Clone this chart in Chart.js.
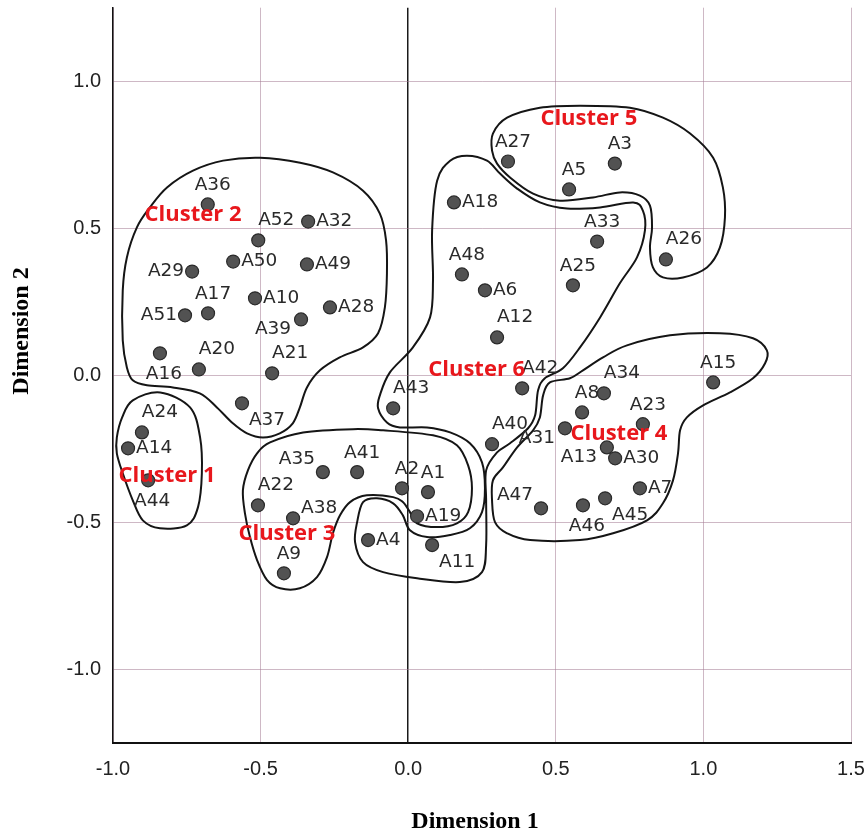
<!DOCTYPE html>
<html>
<head>
<meta charset="utf-8">
<title>Dimension 1 / Dimension 2 clusters</title>
<script src="https://cdn.jsdelivr.net/npm/chart.js@4.4.1/dist/chart.umd.min.js"></script>
<style>
  html, body { margin: 0; padding: 0; background: #fff; }
  #wrap { width: 868px; height: 839px; }
</style>
</head>
<body>
<div id="wrap"><canvas id="myChart" width="868" height="839"></canvas></div>
<script>
// Point names and coordinates
const pointNames = ['A1','A2','A3','A4','A5','A6','A7','A8','A9','A10','A11','A12','A13','A14','A15','A16','A17','A18','A19','A20','A21','A22','A23','A24','A25','A26','A27','A28','A29','A30','A31','A32','A33','A34','A35','A36','A37','A38','A39','A40','A41','A42','A43','A44','A45','A46','A47','A48','A49','A50','A51','A52']
const dim1 = [0.067, -0.021, 0.700, -0.136, 0.545, 0.260, 0.785, 0.589, -0.421, -0.519, 0.081, 0.301, 0.673, -0.949, 1.033, -0.841, -0.678, 0.155, 0.030, -0.709, -0.461, -0.509, 0.795, -0.902, 0.558, 0.873, 0.338, -0.265, -0.732, 0.701, 0.531, -0.339, 0.640, 0.663, -0.289, -0.679, -0.563, -0.390, -0.363, 0.284, -0.173, 0.386, -0.051, -0.881, 0.667, 0.592, 0.450, 0.182, -0.343, -0.593, -0.756, -0.508]
const dim2 = [-0.397, -0.384, 0.720, -0.560, 0.632, 0.289, -0.384, -0.126, -0.673, 0.262, -0.577, 0.129, -0.245, -0.248, -0.024, 0.075, 0.211, 0.588, -0.479, 0.020, 0.007, -0.442, -0.166, -0.194, 0.306, 0.394, 0.727, 0.231, 0.353, -0.282, -0.180, 0.523, 0.455, -0.061, -0.329, 0.581, -0.095, -0.486, 0.190, -0.234, -0.329, -0.044, -0.112, -0.357, -0.418, -0.442, -0.452, 0.343, 0.377, 0.387, 0.204, 0.459]
// where each name sits next to its dot
const labelSide = ['t','t','t','r','t','r','r','t','t','r','br','tr','bl','r','t','b','t','r','r','tr','tr','tr','t','tr','t','tr','t','r','l','r','bl','r','t','tr','tl','t','br','ru','bl','tr','t','tr','tr','b','br','b','tl','t','r','r','l','tr']

const xTicks = [-1.0, -0.5, 0.0, 0.5, 1.0, 1.5]
const yTicks = [-1.0, -0.5, 0.0, 0.5, 1.0]

const clusterNames = ['Cluster 1', 'Cluster 2', 'Cluster 3', 'Cluster 4', 'Cluster 5', 'Cluster 6']
const clusterLabelX = [-0.817, -0.729, -0.411, 0.714, 0.612, 0.232]
const clusterLabelY = [-0.343, 0.547, -0.537, -0.197, 0.873, 0.020]

// hand drawn cluster boundaries, in data units
const cluster1Outline = [[-0.840,-0.058],[-0.739,-0.109],[-0.705,-0.211],[-0.699,-0.333],[-0.712,-0.448],[-0.750,-0.510],[-0.841,-0.520],[-0.899,-0.493],[-0.933,-0.425],[-0.967,-0.333],[-0.987,-0.265],[-0.987,-0.211],[-0.969,-0.143],[-0.933,-0.085]]
const cluster2Outline = [[-0.502,0.740],[-0.366,0.723],[-0.255,0.690],[-0.153,0.628],[-0.096,0.550],[-0.075,0.459],[-0.072,0.347],[-0.079,0.231],[-0.102,0.143],[-0.153,0.095],[-0.232,0.061],[-0.299,0.017],[-0.343,-0.041],[-0.367,-0.109],[-0.391,-0.163],[-0.435,-0.197],[-0.492,-0.211],[-0.546,-0.197],[-0.594,-0.163],[-0.648,-0.109],[-0.706,-0.061],[-0.797,-0.041],[-0.885,-0.034],[-0.933,-0.017],[-0.953,0.027],[-0.967,0.119],[-0.967,0.289],[-0.953,0.401],[-0.919,0.503],[-0.875,0.571],[-0.817,0.639],[-0.729,0.696],[-0.627,0.730]]
const cluster3Outline = [[-0.468,-0.228],[-0.356,-0.194],[-0.187,-0.183],[-0.085,-0.187],[0.084,-0.204],[0.165,-0.238],[0.203,-0.306],[0.216,-0.384],[0.203,-0.465],[0.165,-0.503],[0.098,-0.516],[0.030,-0.503],[0.006,-0.465],[-0.018,-0.431],[-0.051,-0.414],[-0.140,-0.408],[-0.197,-0.431],[-0.231,-0.476],[-0.255,-0.537],[-0.275,-0.618],[-0.309,-0.686],[-0.367,-0.724],[-0.434,-0.724],[-0.478,-0.696],[-0.512,-0.628],[-0.536,-0.550],[-0.553,-0.469],[-0.560,-0.391],[-0.543,-0.323],[-0.512,-0.265]]
const cluster4Outline = [[0.480,-0.024],[0.548,-0.010],[0.592,0.017],[0.660,0.061],[0.741,0.102],[0.887,0.136],[1.056,0.143],[1.168,0.126],[1.215,0.085],[1.209,0.041],[1.168,-0.010],[1.090,-0.058],[0.999,-0.102],[0.944,-0.143],[0.921,-0.187],[0.914,-0.265],[0.897,-0.357],[0.863,-0.435],[0.809,-0.493],[0.694,-0.537],[0.582,-0.560],[0.413,-0.560],[0.335,-0.537],[0.294,-0.499],[0.284,-0.425],[0.287,-0.357],[0.321,-0.313],[0.369,-0.245],[0.423,-0.187],[0.446,-0.143],[0.457,-0.068]]
const cluster5Outline = [[0.287,0.822],[0.335,0.876],[0.446,0.910],[0.582,0.917],[0.751,0.910],[0.863,0.876],[0.955,0.822],[1.033,0.740],[1.066,0.639],[1.073,0.537],[1.056,0.435],[1.012,0.367],[0.931,0.333],[0.863,0.333],[0.829,0.367],[0.819,0.435],[0.826,0.503],[0.819,0.577],[0.785,0.611],[0.717,0.622],[0.626,0.605],[0.514,0.594],[0.423,0.618],[0.345,0.673],[0.301,0.720],[0.284,0.764]]
const cluster6Outline = [[0.142,0.730],[0.199,0.747],[0.267,0.730],[0.311,0.686],[0.369,0.635],[0.446,0.588],[0.538,0.567],[0.650,0.571],[0.762,0.588],[0.795,0.560],[0.802,0.493],[0.775,0.401],[0.717,0.313],[0.650,0.197],[0.582,0.095],[0.524,0.024],[0.463,-0.010],[0.440,-0.051],[0.430,-0.136],[0.406,-0.180],[0.345,-0.231],[0.301,-0.262],[0.264,-0.323],[0.264,-0.425],[0.264,-0.577],[0.250,-0.669],[0.175,-0.703],[0.030,-0.690],[-0.085,-0.669],[-0.153,-0.635],[-0.180,-0.567],[-0.173,-0.499],[-0.153,-0.431],[-0.106,-0.418],[-0.051,-0.435],[-0.018,-0.476],[0.006,-0.527],[0.064,-0.550],[0.142,-0.543],[0.209,-0.520],[0.250,-0.465],[0.260,-0.384],[0.250,-0.296],[0.209,-0.231],[0.142,-0.194],[0.064,-0.177],[-0.028,-0.177],[-0.072,-0.160],[-0.102,-0.112],[-0.096,-0.068],[-0.062,0.010],[0.016,0.095],[0.074,0.197],[0.084,0.323],[0.081,0.493],[0.098,0.662]]

const clusterOutlines = [cluster1Outline, cluster2Outline, cluster3Outline, cluster4Outline, cluster5Outline, cluster6Outline]

const sansFont = "'Liberation Sans', Arial, sans-serif"
const serifFont = "'Liberation Serif', 'Times New Roman', serif"
const gridColor = 'rgba(165, 125, 150, 0.55)'

// label centre offset from the dot, px
const labelOffset = (side, w) => {
  switch (side) {
    case 'r': return [w / 2 + 8, 0]
    case 'ru': return [w / 2 + 8, -10]
    case 'l': return [-(w / 2 + 8), 0]
    case 't': return [5, -19]
    case 'b': return [4, 21]
    case 'tr': return [18, -20]
    case 'tl': return [-26, -13]
    case 'br': return [25, 17]
    case 'bl': return [-28, 10]
  }
  return [0, 0]
}

// closed smooth curve (catmull-rom)
const strokeLoop = (ctx, pts) => {
  const n = pts.length
  ctx.beginPath()
  ctx.moveTo(pts[0].x, pts[0].y)
  for (let i = 0; i < n; i++) {
    const p0 = pts[(i - 1 + n) % n]
    const p1 = pts[i]
    const p2 = pts[(i + 1) % n]
    const p3 = pts[(i + 2) % n]
    ctx.bezierCurveTo(
      p1.x + (p2.x - p0.x) / 6, p1.y + (p2.y - p0.y) / 6,
      p2.x - (p3.x - p1.x) / 6, p2.y - (p3.y - p1.y) / 6,
      p2.x, p2.y
    )
  }
  ctx.closePath()
  ctx.stroke()
}

const annotations = {
  id: 'annotations',
  beforeDatasetsDraw(chart) {
    const { ctx, scales: { x, y } } = chart
    ctx.save()
    ctx.strokeStyle = '#151515'
    ctx.lineWidth = 2
    ctx.lineJoin = 'round'
    clusterOutlines.forEach(outline => {
      const pts = outline.map(p => ({ x: x.getPixelForValue(p[0]), y: y.getPixelForValue(p[1]) }))
      strokeLoop(ctx, pts)
    })
    ctx.restore()
  },
  afterDatasetsDraw(chart) {
    const { ctx, scales: { x, y } } = chart
    const meta = chart.getDatasetMeta(0)
    ctx.save()
    ctx.font = '18.5px "DejaVu Sans", sans-serif'
    ctx.fillStyle = '#2a2a2a'
    ctx.textAlign = 'center'
    ctx.textBaseline = 'middle'
    meta.data.forEach((pt, i) => {
      const w = ctx.measureText(pointNames[i]).width
      const [dx, dy] = labelOffset(labelSide[i], w)
      ctx.fillText(pointNames[i], pt.x + dx, pt.y + dy)
    })

    ctx.font = 'bold 22px "Open Sans", sans-serif'
    ctx.fillStyle = '#e8171c'
    clusterNames.forEach((name, i) => {
      ctx.fillText(name, x.getPixelForValue(clusterLabelX[i]), y.getPixelForValue(clusterLabelY[i]))
    })

    // axis titles
    ctx.fillStyle = '#000'
    ctx.font = 'bold 24px ' + serifFont
    ctx.fillText('Dimension 1', 475, 822)
    ctx.translate(22, 331)
    ctx.rotate(-Math.PI / 2)
    ctx.fillText('Dimension 2', 0, 0)
    ctx.restore()
  }
}

const canvas = document.getElementById('myChart')

new Chart(canvas, {
  type: 'scatter',
  data: {
    datasets: [{
      label: 'Objects',
      data: dim1.map((v, i) => ({ x: v, y: dim2[i] })),
      pointRadius: 6.5,
      pointHoverRadius: 6.5,
      backgroundColor: '#525252',
      borderColor: '#2a2a2a',
      borderWidth: 1.2
    }]
  },
  options: {
    responsive: false,
    animation: false,
    devicePixelRatio: 1,
    layout: { padding: { top: 7, right: 17, bottom: 0, left: 0 } },
    plugins: {
      legend: { display: false },
      tooltip: { enabled: false }
    },
    scales: {
      x: {
        type: 'linear',
        min: -1.0,
        max: 1.5,
        afterBuildTicks: scale => { scale.ticks = xTicks.map(v => ({ value: v })) },
        afterFit: scale => {
          scale.height = 96
          scale.paddingLeft = 0
          scale.paddingRight = 0
        },
        ticks: {
          callback: v => v.toFixed(1),
          color: '#222',
          font: { family: sansFont, size: 20 },
          padding: 14,
          maxRotation: 0,
          autoSkip: false
        },
        grid: {
          drawTicks: false,
          color: c => (c.tick && c.tick.value === 0) ? '#1a1a1a' : gridColor,
          lineWidth: c => (c.tick && c.tick.value === 0) ? 1.5 : 1
        },
        border: { color: '#111', width: 2 }
      },
      y: {
        type: 'linear',
        min: -1.25,
        max: 1.25,
        afterBuildTicks: scale => { scale.ticks = yTicks.map(v => ({ value: v })) },
        afterFit: scale => {
          scale.width = 113
          scale.paddingTop = 0
          scale.paddingBottom = 0
        },
        ticks: {
          callback: v => v.toFixed(1),
          color: '#222',
          font: { family: sansFont, size: 20 },
          padding: 12
        },
        grid: {
          drawTicks: false,
          color: gridColor,
          lineWidth: 1
        },
        border: { color: '#111', width: 1.5 }
      }
    }
  },
  plugins: [annotations]
})
</script>
</body>
</html>
